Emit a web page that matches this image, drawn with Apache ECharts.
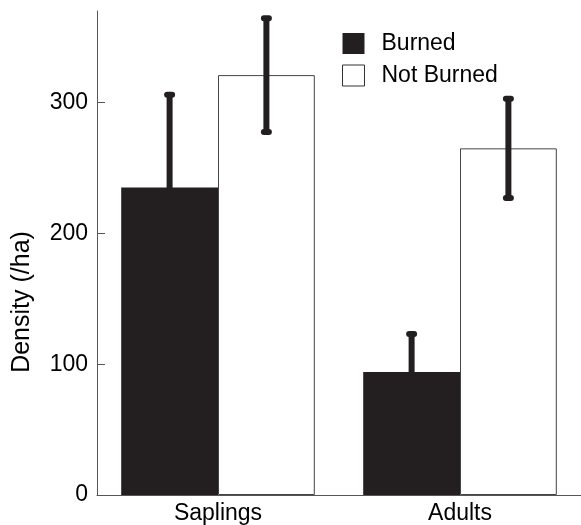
<!DOCTYPE html>
<html>
<head>
<meta charset="utf-8">
<script src="https://cdn.jsdelivr.net/npm/echarts@6/dist/echarts.min.js"></script>
<style>
html,body{margin:0;padding:0;background:#fff;}
#chart{width:581px;height:525px;}
</style>
</head>
<body>
<div id="chart"></div>
<script>
const categories = ['Saplings', 'Adults'];
const burned = [235, 94];
const burnedErr = [71, 29];
const notBurned = [321, 265];
const notBurnedErr = [43.5, 38];
const yTicks = [0, 100, 200, 300];

const dark = '#231f20';
const axisCol = '#555';
const font = 'Liberation Sans, Arial, Helvetica, sans-serif';

function errData(vals, errs) {
  return vals.map((v, i) => [i, v - errs[i], v + errs[i]]);
}
function errRender(offset) {
  return function (params, api) {
    const hi = api.coord([api.value(0), api.value(2)]);
    const lo = api.coord([api.value(0), api.value(1)]);
    const band = api.size([1, 0])[0];
    const x = hi[0] + offset * band;
    return {
      type: 'group',
      children: [
        { type: 'line', shape: { x1: x, y1: lo[1], x2: x, y2: hi[1] },
          style: { stroke: dark, lineWidth: 6 } },
        { type: 'rect', shape: { x: x - 5.5, y: hi[1] - 3, width: 11, height: 6, r: 3 },
          style: { fill: dark } },
        { type: 'rect', shape: { x: x - 5.5, y: lo[1] - 3, width: 11, height: 6, r: 3 },
          style: { fill: dark } }
      ]
    };
  };
}

const chart = echarts.init(document.getElementById('chart'), null, { renderer: 'canvas' });
chart.setOption({
  backgroundColor: '#fff',
  animation: false,
  grid: { left: 97, right: 0, top: 11, bottom: 30 },
  legend: {
    orient: 'vertical', left: 342, top: 32, padding: 0,
    itemWidth: 22, itemHeight: 21, itemGap: 9,
    data: [
      { name: 'Burned', icon: 'rect', itemStyle: { color: dark, borderWidth: 0 } },
      { name: 'Not Burned', icon: 'rect', itemStyle: { color: '#fff', borderColor: '#333', borderWidth: 1 } }
    ],
    textStyle: { fontFamily: font, fontSize: 23, color: '#000', padding: [0, 0, 0, 12] }
  },
  xAxis: {
    type: 'category', data: categories, boundaryGap: true,
    axisLine: { lineStyle: { color: axisCol, width: 1 } },
    axisTick: { inside: true, length: 8, lineStyle: { color: axisCol } },
    axisLabel: { fontFamily: font, fontSize: 23, color: '#000', margin: 7 }
  },
  yAxis: {
    type: 'value', min: 0, max: 370, interval: 100,
    splitLine: { show: false },
    axisLine: { show: true, lineStyle: { color: axisCol, width: 1 } },
    axisTick: { show: true, inside: true, length: 8, customValues: yTicks, lineStyle: { color: axisCol } },
    axisLabel: { fontFamily: font, fontSize: 23, color: '#000', margin: 9, customValues: yTicks }
  },
  graphic: [{
    type: 'text', x: 22, y: 302, rotation: Math.PI / 2,
    style: { text: 'Density (/ha)', font: '25px ' + font, fill: '#000', textAlign: 'center', textVerticalAlign: 'middle' }
  }],
  series: [
    { name: 'Burned', type: 'bar', data: burned, barGap: '0%', barCategoryGap: '20%',
      itemStyle: { color: dark } },
    { name: 'Not Burned', type: 'bar', data: notBurned,
      itemStyle: { color: '#fff', borderColor: '#444', borderWidth: 1 } },
    { type: 'custom', renderItem: errRender(-0.2), data: errData(burned, burnedErr), z: 5 },
    { type: 'custom', renderItem: errRender(0.2), data: errData(notBurned, notBurnedErr), z: 5 }
  ]
});
</script>
</body>
</html>
